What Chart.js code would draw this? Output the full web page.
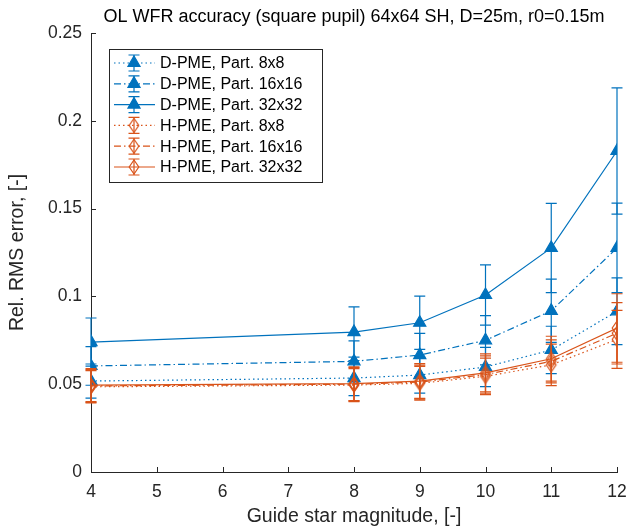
<!DOCTYPE html>
<html><head><meta charset="utf-8">
<script src="https://cdn.jsdelivr.net/npm/chart.js@4/dist/chart.umd.min.js"></script>
<style>html,body{margin:0;padding:0;background:#fff}#wrap{width:642px;height:529px;position:relative}</style>
</head><body><div id="wrap"><canvas id="c" width="642" height="529"></canvas></div>
<script>
// ---- data ----
const magnitudes = [4, 8, 9, 10, 11, 12];
const dpme8  = [0.0518, 0.0535, 0.0552, 0.0598, 0.0695, 0.0915];
const dpme16 = [0.0604, 0.0630, 0.0666, 0.0750, 0.0918, 0.1276];
const dpme32 = [0.0740, 0.0797, 0.0850, 0.1008, 0.1276, 0.1828];
const hpme8  = [0.0485, 0.0495, 0.0505, 0.0545, 0.0610, 0.0755];
const hpme16 = [0.0490, 0.0500, 0.0512, 0.0555, 0.0630, 0.0790];
const hpme32 = [0.0495, 0.0503, 0.0518, 0.0565, 0.0645, 0.0820];
// error bar half-widths
const dpme8Err  = [0.0097, 0.0100, 0.0103, 0.0112, 0.0135, 0.0190];
const dpme16Err = [0.0110, 0.0117, 0.0124, 0.0140, 0.0180, 0.0255];
const dpme32Err = [0.0137, 0.0143, 0.0152, 0.0172, 0.0254, 0.0360];
const hpme8Err  = [0.0092, 0.0094, 0.0096, 0.0104, 0.0118, 0.0165];
const hpme16Err = [0.0093, 0.0095, 0.0097, 0.0106, 0.0122, 0.0175];
const hpme32Err = [0.0094, 0.0096, 0.0099, 0.0108, 0.0128, 0.0195];
const seriesNames = ['D-PME, Part. 8x8','D-PME, Part. 16x16','D-PME, Part. 32x32','H-PME, Part. 8x8','H-PME, Part. 16x16','H-PME, Part. 32x32'];
const xTicks = [4, 5, 6, 7, 8, 9, 10, 11, 12];
const yTicks = [0, 0.05, 0.1, 0.15, 0.2, 0.25];
const yTickLabels = ['0', '0.05', '0.1', '0.15', '0.2', '0.25'];
const chartTitle = 'OL WFR accuracy (square pupil) 64x64 SH, D=25m, r0=0.15m';
const xTitle = 'Guide star magnitude, [-]';
const yTitle = 'Rel. RMS error, [-]';

// ---- styles ----
const FONT = "'Liberation Sans', Arial, Helvetica, sans-serif";
const BLUE = '#0072BD', ORANGE = '#D95319', AXIS = '#262626';
const DOT = [1.5, 3], DASHDOT = [7, 3, 1.5, 3], SOLID = [];

// unfilled diamond marker (taller than wide, like MATLAB 'd')
function makeDiamond(color) {
  const c = document.createElement('canvas');
  c.width = 14; c.height = 18;
  const g = c.getContext('2d');
  g.strokeStyle = color; g.lineWidth = 1.2;
  g.beginPath();
  g.moveTo(7, 2); g.lineTo(11.8, 9); g.lineTo(7, 16); g.lineTo(2.2, 9); g.closePath();
  g.stroke();
  return c;
}
const diamond = makeDiamond(ORANGE);

const seriesValues = [dpme8, dpme16, dpme32, hpme8, hpme16, hpme32];
const seriesErrors = [dpme8Err, dpme16Err, dpme32Err, hpme8Err, hpme16Err, hpme32Err];
const seriesStyle = [
  {color: BLUE, dash: DOT, marker: 'triangle', r: 7, fill: BLUE},
  {color: BLUE, dash: DASHDOT, marker: 'triangle', r: 7, fill: BLUE},
  {color: BLUE, dash: SOLID, marker: 'triangle', r: 7, fill: BLUE},
  {color: ORANGE, dash: DOT, marker: diamond, r: 7, fill: 'rgba(0,0,0,0)'},
  {color: ORANGE, dash: DASHDOT, marker: diamond, r: 7, fill: 'rgba(0,0,0,0)'},
  {color: ORANGE, dash: SOLID, marker: diamond, r: 7, fill: 'rgba(0,0,0,0)'}
];

const datasets = seriesValues.map((vals, i) => ({
  label: seriesNames[i],
  data: magnitudes.map((m, j) => ({x: m, y: vals[j]})),
  errors: seriesErrors[i],
  borderColor: seriesStyle[i].color,
  backgroundColor: seriesStyle[i].fill,
  borderWidth: 1.2,
  borderDash: seriesStyle[i].dash,
  pointStyle: seriesStyle[i].marker,
  pointRadius: seriesStyle[i].r,
  pointBorderWidth: 1.2,
  pointBorderColor: seriesStyle[i].color,
  pointBackgroundColor: seriesStyle[i].fill,
  showLine: true,
  tension: 0,
  order: seriesValues.length - i
}));

const CAP = 5.5;
const errorBars = {
  id: 'errorBars',
  beforeDatasetDraw(chart, args) {
    const ds = chart.data.datasets[args.index];
    const xs = chart.scales.x, ys = chart.scales.y;
    const ctx = chart.ctx;
    ctx.save();
    ctx.strokeStyle = ds.borderColor;
    ctx.lineWidth = 1.2;
    ctx.setLineDash([]);
    ds.data.forEach((p, j) => {
      const px = xs.getPixelForValue(p.x);
      const hi = ys.getPixelForValue(p.y + ds.errors[j]);
      const lo = ys.getPixelForValue(p.y - ds.errors[j]);
      ctx.beginPath();
      ctx.moveTo(px, hi); ctx.lineTo(px, lo);
      ctx.moveTo(px - CAP, hi); ctx.lineTo(px + CAP, hi);
      ctx.moveTo(px - CAP, lo); ctx.lineTo(px + CAP, lo);
      ctx.stroke();
    });
    ctx.restore();
  }
};

const innerTicks = {
  id: 'innerTicks',
  beforeDatasetsDraw(chart) {
    const ctx = chart.ctx, xs = chart.scales.x, ys = chart.scales.y;
    const a = chart.chartArea;
    ctx.save();
    ctx.strokeStyle = AXIS; ctx.lineWidth = 1;
    ctx.beginPath();
    xTicks.forEach(v => { const px = Math.round(xs.getPixelForValue(v)) + 0.5; ctx.moveTo(px, a.bottom); ctx.lineTo(px, a.bottom - 5); });
    yTicks.forEach(v => { const py = Math.round(ys.getPixelForValue(v)) + 0.5; ctx.moveTo(a.left, py); ctx.lineTo(a.left + 5, py); });
    ctx.stroke();
    // title centred over the axes
    ctx.fillStyle = '#000';
    ctx.font = '18px ' + FONT;
    ctx.textAlign = 'center'; ctx.textBaseline = 'middle';
    ctx.fillText(chartTitle, (a.left + a.right) / 2, 17);
    ctx.restore();
  }
};

const boxLegend = {
  id: 'boxLegend',
  afterDraw(chart) {
    const ctx = chart.ctx, a = chart.chartArea;
    const left = a.left + 18, top = a.top + 16, w = 213, h = 133, rowH = 20.8;
    ctx.save();
    ctx.fillStyle = '#fff';
    ctx.fillRect(left, top, w, h);
    ctx.strokeStyle = AXIS; ctx.lineWidth = 1;
    ctx.strokeRect(Math.round(left) + 0.5, Math.round(top) + 0.5, w, h);
    ctx.font = '16px ' + FONT;
    ctx.textBaseline = 'middle'; ctx.textAlign = 'left';
    seriesNames.forEach((name, i) => {
      const st = seriesStyle[i];
      const y = top + 14 + i * rowH;
      const x0 = left + 5, x1 = left + 46, xm = left + 25;
      ctx.strokeStyle = st.color; ctx.lineWidth = 1.2;
      ctx.setLineDash(st.dash);
      ctx.beginPath(); ctx.moveTo(x0, y); ctx.lineTo(x1, y); ctx.stroke();
      ctx.setLineDash([]);
      ctx.beginPath();
      ctx.moveTo(xm, y - 8); ctx.lineTo(xm, y + 8);
      ctx.moveTo(xm - CAP, y - 8); ctx.lineTo(xm + CAP, y - 8);
      ctx.moveTo(xm - CAP, y + 8); ctx.lineTo(xm + CAP, y + 8);
      ctx.stroke();
      ctx.fillStyle = st.fill;
      Chart.helpers.drawPoint(ctx, {pointStyle: st.marker, radius: st.r, rotation: 0, borderWidth: 1.2}, xm, y);
      ctx.fillStyle = '#000';
      ctx.fillText(name, left + 51, y + 1);
    });
    ctx.restore();
  }
};

new Chart(document.getElementById('c'), {
  type: 'scatter',
  data: {datasets},
  options: {
    responsive: false,
    animation: false,
    layout: {padding: {top: 33, right: 25, bottom: 0, left: 0}},
    plugins: {legend: {display: false}, tooltip: {enabled: false}, title: {display: false}},
    scales: {
      x: {
        type: 'linear', min: 4, max: 12,
        afterBuildTicks: s => { s.ticks = xTicks.map(v => ({value: v})); },
        afterFit: s => { s.height = 57; },
        grid: {display: false, drawTicks: false},
        border: {display: true, color: AXIS, width: 1},
        ticks: {padding: 10, color: AXIS, font: {family: FONT, size: 17.5}, maxRotation: 0, autoSkip: false,
                callback: (v) => String(v)},
        title: {display: true, text: xTitle, color: AXIS, font: {family: FONT, size: 19.5}, padding: {top: 0, bottom: 1}}
      },
      y: {
        type: 'linear', min: 0, max: 0.25,
        afterBuildTicks: s => { s.ticks = yTicks.map(v => ({value: v})); },
        afterFit: s => { s.width = 91; },
        grid: {display: false, drawTicks: false},
        border: {display: true, color: AXIS, width: 1},
        ticks: {padding: 9, color: AXIS, font: {family: FONT, size: 17.5}, autoSkip: false,
                callback: (v, i) => yTickLabels[i]},
        title: {display: true, text: yTitle, color: AXIS, font: {family: FONT, size: 19.5}, padding: {top: 6, bottom: 0}}
      }
    }
  },
  plugins: [errorBars, innerTicks, boxLegend]
});
</script></body></html>
